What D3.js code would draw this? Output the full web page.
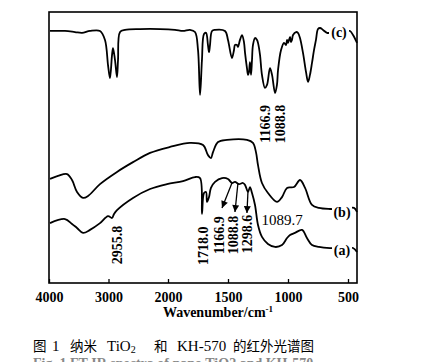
<!DOCTYPE html>
<html>
<head>
<meta charset="utf-8">
<script src="https://cdn.jsdelivr.net/npm/d3@7/dist/d3.min.js"></script>
<style>
  body { margin: 0; background: #fff; }
  svg { display: block; }
</style>
</head>
<body>
<svg id="chart"></svg>
<script>
////////////////////////////
//  spectra  [wavenumber, transmittance]
////////////////////////////
var curveC = [[3983,93.0],[3731,93.0],[3563,92.6],[3445,92.3],[3311,93.0],[3143,93.0],[3059,89.7],[3008,80.4],
  [2975,75.6],[2941,84.1],[2924,86.7],[2891,82.3],[2857,76.0],[2840,82.3],[2806,92.6],[2722,93.4],[2470,93.7],
  [2134,93.7],[1942,93.4],[1875,93.0],[1817,93.4],[1775,92.6],[1750,86.0],[1733,69.4],[1717,82.3],[1700,91.9],
  [1683,92.3],[1667,87.8],[1658,85.2],[1650,87.8],[1633,93.0],[1608,93.4],[1525,93.0],[1500,89.7],[1467,83.0],
  [1450,86.0],[1442,87.8],[1425,87.8],[1417,87.1],[1400,89.7],[1383,91.5],[1367,88.9],[1358,84.9],[1342,79.3],
  [1333,76.8],[1325,77.9],[1317,81.5],[1308,76.8],[1300,82.3],[1292,87.8],[1275,90.4],[1258,89.7],[1250,88.6],
  [1233,84.1],[1217,76.8],[1192,72.0],[1175,73.1],[1150,79.3],[1133,76.8],[1108,70.1],[1092,73.1],[1083,78.6],
  [1058,86.0],[1033,88.6],[1017,87.8],[1008,89.7],[1000,88.6],[983,90.8],[975,88.9],[967,89.7],[958,91.5],
  [933,92.6],[917,92.3],[900,90.4],[875,84.9],[850,77.9],[833,74.2],[817,76.8],[800,81.2],[783,86.0],[767,89.7],
  [750,93.7],[733,94.1],[708,93.4],[675,92.3],[608,92.6],[525,93.0],[483,93.0],[458,91.5],[425,88.6]];

var curveB = [[3983,38.4],[3849,39.5],[3697,40.2],[3613,38.0],[3529,33.6],[3428,31.4],[3344,32.1],[3143,36.5],
  [2857,41.0],[2588,44.6],[2302,48.0],[1983,50.2],[1817,51.7],[1708,50.9],[1667,47.2],[1642,46.1],[1625,48.3],
  [1583,52.0],[1508,52.8],[1342,52.8],[1292,51.7],[1267,48.3],[1250,43.5],[1217,36.9],[1167,33.2],[1092,29.9],
  [1050,31.7],[1008,35.1],[950,35.4],[900,38.0],[858,35.1],[800,28.8],[742,27.7],[650,27.3],[525,27.3],
  [450,27.7],[425,26.2]];

var curveA = [[3983,22.1],[3731,23.6],[3613,21.8],[3529,20.3],[3428,18.5],[3311,19.6],[3143,22.1],[3008,24.7],
  [2941,24.0],[2907,25.5],[2857,26.9],[2588,31.4],[2302,34.7],[2017,36.5],[1875,37.6],[1775,39.1],[1733,38.7],
  [1717,25.5],[1700,33.2],[1683,33.6],[1675,29.9],[1658,31.7],[1642,35.1],[1608,37.3],[1550,38.7],[1500,38.4],
  [1467,36.9],[1442,37.3],[1408,36.5],[1375,36.9],[1358,36.2],[1333,33.6],[1317,35.4],[1300,33.2],[1275,28.8],
  [1250,21.4],[1217,17.0],[1167,14.4],[1108,13.3],[1050,14.0],[1008,16.6],[983,17.7],[942,18.5],[883,19.6],
  [842,16.6],[800,14.0],[742,13.3],[650,12.9],[525,12.9],[458,12.9],[425,11.4]];

var curveNames = ['(c)', '(b)', '(a)'];
var namePos = [[575,92.6],[550,26.2],[550,12.2]];

var tickValues = [4000, 3000, 2000, 1500, 1000, 500];

// rotated peak labels [wavenumber, T, text]
var peakLabels = [[2860,14.0,'2955.8'],[1708,13.7,'1718.0'],[1575,17.7,'1166.9'],[1458,17.7,'1088.8'],
  [1342,18.1,'1298.6'],[1192,58.7,'1166.9'],[1067,58.7,'1088.8']];
var flatLabels = [[1050,23.2,'1089.7']];

// arrows [from wn, from T, to wn, to T]
var arrows = [[1467,36.9,1550,27.7],[1417,36.9,1442,26.2],[1333,34.3,1342,25.8]];

///////////////////
// layout
//////////////////
var width = 424, height = 362;
var padL = 49, padR = 357, padT = 12, padB = 283;
var serif = '"Liberation Serif", "Times New Roman", serif';

var svg = d3.select('#chart').attr('width', width).attr('height', height);

// IR spectra use a 2x expanded scale below 2000 cm-1
var x = d3.scaleLinear().domain([4000, 2000, 425]).range([padL, 168, padR]);
var y = d3.scaleLinear().domain([0, 100]).range([padB, padT]);

var line = d3.line()
  .x(d => x(d[0]))
  .y(d => y(d[1]))
  .curve(d3.curveCatmullRom.alpha(0.5));

svg.append('defs').append('marker')
    .attr('id', 'head')
    .attr('viewBox', '0 0 10 10')
    .attr('refX', 10).attr('refY', 5)
    .attr('markerWidth', 11).attr('markerHeight', 7)
    .attr('markerUnits', 'userSpaceOnUse')
    .attr('orient', 'auto')
  .append('path')
    .attr('d', 'M0,0 L10,5 L0,10 Z')
    .attr('fill', '#000');

//// curves
svg.selectAll('.spec')
  .data([curveC, curveB, curveA])
  .enter()
  .append('path')
    .classed('spec', true)
    .attr('d', line)
    .attr('fill', 'none')
    .attr('stroke', '#000')
    .attr('stroke-width', 1.8)
    .attr('stroke-linejoin', 'round');

//// frame
svg.append('rect')
    .attr('x', padL).attr('y', padT)
    .attr('width', padR - padL).attr('height', padB - padT)
    .attr('fill', 'none')
    .attr('stroke', '#000')
    .attr('stroke-width', 1.6);

//// axis
var axis = svg.append('g')
    .attr('transform', `translate(0,${padB})`)
    .call(d3.axisBottom(x).tickValues(tickValues).tickSize(-4).tickPadding(9).tickFormat(d3.format('d')));
axis.select('.domain').remove();
axis.selectAll('line').attr('stroke', '#000').attr('stroke-width', 1.3);
axis.selectAll('text')
    .attr('font-family', serif)
    .attr('font-size', 14)
    .attr('font-weight', 'bold')
    .attr('fill', '#000');

svg.append('text')
    .attr('x', 218).attr('y', 317)
    .attr('text-anchor', 'middle')
    .attr('font-family', serif)
    .attr('font-size', 14)
    .attr('font-weight', 'bold')
    .text('Wavenumber/cm')
  .append('tspan')
    .attr('dy', -5)
    .attr('font-size', 9)
    .text('-1');

//// curve names with a white gap behind them
var names = svg.selectAll('.name')
  .data(curveNames)
  .enter()
  .append('g')
    .classed('name', true)
    .attr('transform', (d, i) => `translate(${x(namePos[i][0])},${y(namePos[i][1])})`);
names.append('rect')
    .attr('x', -10).attr('y', -8)
    .attr('width', 20).attr('height', 16)
    .attr('fill', '#fff');
names.append('text')
    .attr('text-anchor', 'middle')
    .attr('dy', '0.35em')
    .attr('font-family', serif)
    .attr('font-size', 14)
    .attr('font-weight', 'bold')
    .text(d => d);

//// arrows
svg.selectAll('.arrow')
  .data(arrows)
  .enter()
  .append('line')
    .classed('arrow', true)
    .attr('x1', d => x(d[0])).attr('y1', d => y(d[1]))
    .attr('x2', d => x(d[2])).attr('y2', d => y(d[3]))
    .attr('stroke', '#000')
    .attr('stroke-width', 1.3)
    .attr('marker-end', 'url(#head)');

//// peak labels
svg.selectAll('.peak')
  .data(peakLabels)
  .enter()
  .append('text')
    .classed('peak', true)
    .attr('transform', d => `translate(${x(d[0])},${y(d[1])}) rotate(-90)`)
    .attr('text-anchor', 'middle')
    .attr('dy', '0.35em')
    .attr('font-family', serif)
    .attr('font-size', 14)
    .attr('font-weight', 'bold')
    .text(d => d[2]);

svg.selectAll('.flat')
  .data(flatLabels)
  .enter()
  .append('text')
    .classed('flat', true)
    .attr('x', d => x(d[0])).attr('y', d => y(d[1]))
    .attr('text-anchor', 'middle')
    .attr('dy', '0.35em')
    .attr('font-family', serif)
    .attr('font-size', 15)
    .text(d => d[2]);

//// caption
var cjk = '"Noto Sans CJK SC", sans-serif';
var cap = svg.append('g').attr('font-size', 13.5);
cap.append('text').attr('x', 33).attr('y', 351).attr('font-family', cjk).text('图');
cap.append('text').attr('x', 52).attr('y', 351).attr('font-family', serif).attr('font-size', 15).text('1');
cap.append('text').attr('x', 70).attr('y', 351).attr('font-family', cjk).text('纳米');
cap.append('text').attr('x', 107).attr('y', 351).attr('font-family', serif).attr('font-size', 15).text('TiO')
  .append('tspan').attr('font-size', 10).attr('dy', 2).text('2');
cap.append('text').attr('x', 154).attr('y', 351).attr('font-family', cjk).text('和');
cap.append('text').attr('x', 177).attr('y', 351).attr('font-family', serif).attr('font-size', 15).text('KH-570');
cap.append('text').attr('x', 233).attr('y', 351).attr('font-family', cjk).text('的红外光谱图');

// English caption line, cut by the bottom edge as in the scan
svg.append('text')
    .attr('x', 33).attr('y', 368)
    .attr('font-family', serif)
    .attr('font-size', 14)
    .attr('font-weight', 'bold')
    .attr('fill', '#888')
    .text('Fig. 1   FT-IR spectra of nano TiO2 and KH-570');
</script>
</body>
</html>
